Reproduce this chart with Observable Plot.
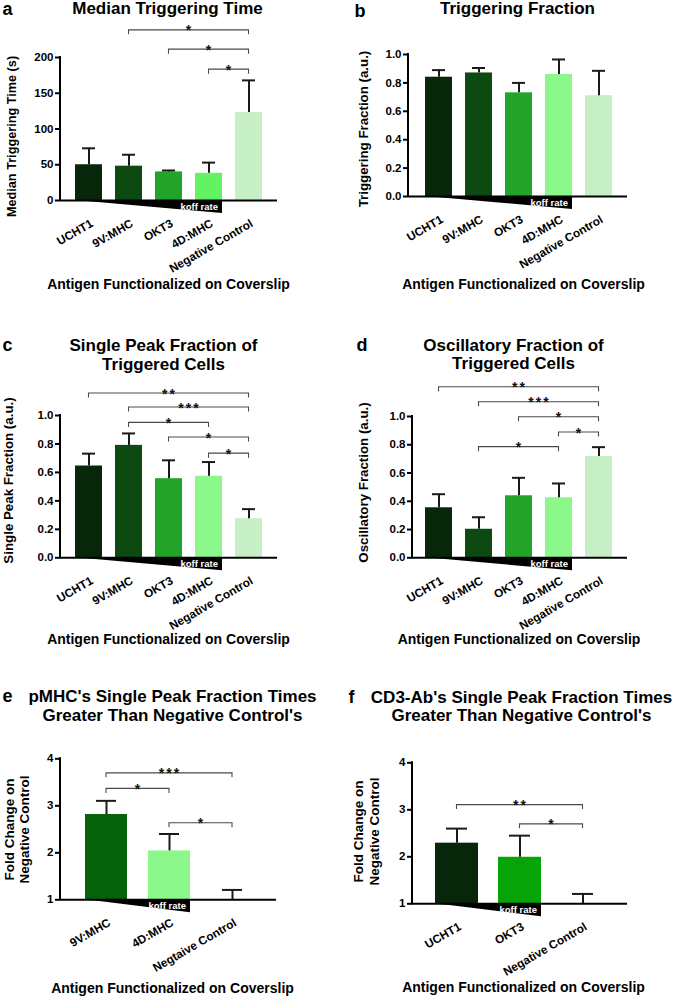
<!DOCTYPE html>
<html><head><meta charset="utf-8">
<script src="https://cdn.jsdelivr.net/npm/d3@7"></script>
<script src="https://cdn.jsdelivr.net/npm/@observablehq/plot@0.6"></script>
<style>
body{margin:0;background:#fff;}
#fig{position:relative;width:675px;height:997px;overflow:hidden;background:#fff;}
#fig svg{position:absolute;}
</style></head><body><div id="fig"></div>
<script>
// ---------------- data ----------------
const catsFull = ["UCHT1", "9V:MHC", "OKT3", "4D:MHC", "Negative Control"];
const catsPMHC = ["9V:MHC", "4D:MHC", "Negtaive Control"];
const catsCD3 = ["UCHT1", "OKT3", "Negative Control"];

const medianTime = [50, 48, 40, 38, 123];
const medianTimeErr = [23, 16, 2, 15, 45];
const trigFrac = [0.84, 0.87, 0.73, 0.86, 0.71];
const trigFracErr = [0.05, 0.035, 0.07, 0.105, 0.175];
const singlePeak = [0.645, 0.79, 0.556, 0.573, 0.275];
const singlePeakErr = [0.087, 0.084, 0.129, 0.10, 0.067];
const oscFrac = [0.354, 0.202, 0.439, 0.425, 0.717];
const oscFracErr = [0.096, 0.085, 0.127, 0.101, 0.066];
const pmhcFold = [2.815, 2.04, 1.0];
const pmhcFoldErr = [0.29, 0.36, 0.21];
const cd3Fold = [2.29, 1.99, 1.0];
const cd3FoldErr = [0.31, 0.46, 0.21];

const yTicksTime = [0, 50, 100, 150, 200];
const yTicksFrac = [0, 0.2, 0.4, 0.6, 0.8, 1.0];
const yTicksFold = [1, 2, 3, 4];

// significance brackets: [from, to, bracket level (data units), label]
const sigA = [["9V:MHC", "Negative Control", 238, "*"], ["OKT3", "Negative Control", 211, "*"], ["4D:MHC", "Negative Control", 183, "*"]];
const sigB = [];
const sigC = [["UCHT1", "Negative Control", 1.155, "**"], ["9V:MHC", "Negative Control", 1.056, "***"], ["9V:MHC", "4D:MHC", 0.948, "*"], ["OKT3", "Negative Control", 0.845, "*"], ["4D:MHC", "Negative Control", 0.732, "*"]];
const sigD = [["UCHT1", "Negative Control", 1.207, "**"], ["9V:MHC", "Negative Control", 1.101, "***"], ["OKT3", "Negative Control", 0.995, "*"], ["4D:MHC", "Negative Control", 0.887, "*"], ["9V:MHC", "4D:MHC", 0.783, "*"]];
const sigE = [["9V:MHC", "Negtaive Control", 3.69, "***"], ["9V:MHC", "4D:MHC", 3.36, "*"], ["4D:MHC", "Negtaive Control", 2.63, "*"]];
const sigF = [["UCHT1", "Negative Control", 3.10, "**"], ["OKT3", "Negative Control", 2.69, "*"]];

const xTitle = "Antigen Functionalized on Coverslip";
const koffLabel = "koff rate";

// ---------------- styles / layout ----------------
const FONT = '"Liberation Sans", Arial, Helvetica, sans-serif';
const C_UCHT1 = "#07260a", C_9V = "#0c4a11", C_OKT3 = "#23a329", C_4D = "#8cf88c", C_NC = "#c6efc6";

const panels = [
  {letter: "a", title: "Median Triggering Time", ylabel: "Median Triggering Time (s)",
   cats: catsFull, values: medianTime, errs: medianTimeErr, base: 0, yDomain: [0, 200], yTicks: yTicksTime, fmt: d3.format("d"),
   sig: sigA, koffEnd: "4D:MHC", colors: [C_UCHT1, C_9V, C_OKT3, "#62f262", C_NC],
   left: 0, top: 0, W: 337, H: 300, mL: 60, mR: 60, mT: 57, mB: 100, xRange: [68.5, 268.5], pad: 0.325, cap: 7,
   titleX: 167, titleY: 13, letterX: 2, letterY: 14, yLabX: 11, yLabY: 136, yLabSize: 12.7, xLabX: 168, xLabY: 288},
  {letter: "b", title: "Triggering Fraction", ylabel: "Triggering Fraction (a.u.)",
   cats: catsFull, values: trigFrac, errs: trigFracErr, base: 0, yDomain: [0, 1], yTicks: yTicksFrac, fmt: d3.format(".1f"),
   sig: sigB, koffEnd: "4D:MHC", colors: [C_UCHT1, C_9V, C_OKT3, C_4D, C_NC],
   left: 335, top: 0, W: 340, H: 300, mL: 73, mR: 48, mT: 54, mB: 104, xRange: [83.5, 283.5], pad: 0.325, cap: 7,
   titleX: 182, titleY: 13, letterX: 19, letterY: 16, yLabX: 28, yLabY: 128.5, yLabSize: 13.3, xLabX: 188, xLabY: 288},
  {letter: "c", title: "Single Peak Fraction of\nTriggered Cells", ylabel: "Single Peak Fraction (a.u.)",
   cats: catsFull, values: singlePeak, errs: singlePeakErr, base: 0, yDomain: [0, 1], yTicks: yTicksFrac, fmt: d3.format(".1f"),
   sig: sigC, koffEnd: "4D:MHC", colors: [C_UCHT1, C_9V, C_OKT3, C_4D, C_NC],
   left: 0, top: 300, W: 337, H: 350, mL: 60, mR: 60, mT: 115, mB: 92.7, xRange: [68.5, 268.5], pad: 0.325, cap: 7,
   titleX: 163, titleY: 69, letterX: 2, letterY: 50, yLabX: 8, yLabY: 180, yLabSize: 13.3, xLabX: 168, xLabY: 343},
  {letter: "d", title: "Oscillatory Fraction of\nTriggered Cells", ylabel: "Oscillatory Fraction (a.u.)",
   cats: catsFull, values: oscFrac, errs: oscFracErr, base: 0, yDomain: [0, 1], yTicks: yTicksFrac, fmt: d3.format(".1f"),
   sig: sigD, koffEnd: "4D:MHC", colors: [C_UCHT1, C_9V, C_OKT3, C_4D, C_NC],
   left: 335, top: 300, W: 340, H: 350, mL: 77, mR: 48, mT: 116, mB: 92.7, xRange: [83.5, 283.5], pad: 0.325, cap: 7,
   titleX: 178, titleY: 68.5, letterX: 21, letterY: 50, yLabX: 28, yLabY: 182, yLabSize: 13.3, xLabX: 183.5, xLabY: 343},
  {letter: "e", title: "pMHC's Single Peak Fraction Times\nGreater Than Negative Control's", ylabel: "Fold Change on\nNegative Control",
   cats: catsPMHC, values: pmhcFold, errs: pmhcFoldErr, base: 1, yDomain: [1, 4], yTicks: yTicksFold, fmt: d3.format("d"),
   sig: sigE, koffEnd: "4D:MHC", colors: ["#05620a", C_4D, C_NC],
   left: 0, top: 650, W: 337, H: 347, mL: 60, mR: 61, mT: 108.3, mB: 97.7, xRange: [73.4, 264.5], pad: 0.333, cap: 11,
   titleX: 172, titleY: 70, letterX: 2, letterY: 51, yLabX: 16, yLabY: 179, yLabSize: 13.5, xLabX: 172, xLabY: 342.7},
  {letter: "f", title: "CD3-Ab's Single Peak Fraction Times\nGreater Than Negative Control's", ylabel: "Fold Change on\nNegative Control",
   cats: catsCD3, values: cd3Fold, errs: cd3FoldErr, base: 1, yDomain: [1, 4], yTicks: yTicksFold, fmt: d3.format("d"),
   sig: sigF, koffEnd: "OKT3", colors: [C_UCHT1, "#06a406", C_NC],
   left: 335, top: 650, W: 340, H: 347, mL: 77, mR: 48, mT: 112.3, mB: 93.7, xRange: [89.8, 279.8], pad: 0.32, cap: 11,
   titleX: 186, titleY: 70.5, letterX: 13, letterY: 52, yLabX: 30.5, yLabY: 181, yLabSize: 13.5, xLabX: 188, xLabY: 341.7}
];

function bwOf(x) { return typeof x.bandwidth === "function" ? x.bandwidth() : (x.bandwidth || 0); }

function yAxisLine(p) {
  return (index, scales, values, dims) => {
    const y = scales.y;
    const g = d3.create("svg:g");
    g.append("line").attr("x1", dims.marginLeft).attr("x2", dims.marginLeft)
      .attr("y1", y(p.yDomain[1]) - 1).attr("y2", y(p.yDomain[0]) + 1)
      .attr("stroke", "#000").attr("stroke-width", 2);
    return g.node();
  };
}

function koffWedge(p) {
  return (index, scales) => {
    const x = scales.x, y = scales.y, bw = bwOf(x);
    const x0 = x(p.cats[0]), x1 = x(p.koffEnd) + bw, y0 = y(p.base);
    const depth = 13;
    const g = d3.create("svg:g");
    g.append("path").attr("d", `M${x0},${y0}L${x1},${y0}L${x1},${y0 + depth}Z`).attr("fill", "#000");
    g.append("text").attr("x", x1 - 4).attr("y", y0 + 9.5).attr("text-anchor", "end")
      .attr("fill", "#fff").attr("font-size", 9.5).attr("font-weight", "bold").attr("font-family", FONT)
      .text(koffLabel);
    return g.node();
  };
}

function brackets(p) {
  return (index, scales) => {
    const x = scales.x, y = scales.y, bw = bwOf(x);
    const g = d3.create("svg:g");
    for (const [a, b, lvl, stars] of p.sig) {
      const xa = x(a) + bw / 2, xb = x(b) + bw / 2, yy = y(lvl);
      g.append("path").attr("d", `M${xa},${yy + 4.5}V${yy}H${xb}V${yy + 4.5}`)
        .attr("fill", "none").attr("stroke", "#4a4a4a").attr("stroke-width", 1.1);
      g.append("text").attr("x", (xa + xb) / 2 + 1).attr("y", yy + 5.6).attr("text-anchor", "middle")
        .attr("font-size", 14).attr("font-weight", "bold").attr("font-family", FONT)
        .attr("letter-spacing", 2).attr("fill", "#111").text(stars);
    }
    return g.node();
  };
}

const fig = document.getElementById("fig");
for (const p of panels) {
  const data = p.cats.map((c, i) => ({cat: c, value: p.values[i], err: p.errs[i]}));
  const svg = Plot.plot({
    width: p.W, height: p.H,
    marginLeft: p.mL, marginRight: p.mR, marginTop: p.mT, marginBottom: p.mB,
    style: {fontFamily: FONT, background: "transparent", overflow: "visible", color: "#000"},
    x: {type: "band", domain: p.cats, range: p.xRange, paddingInner: p.pad, paddingOuter: p.pad / 2, align: 0.5, label: null},
    y: {domain: p.yDomain, label: null},
    color: {domain: p.cats, range: p.colors},
    marks: [
      Plot.barY(data, {x: "cat", y1: () => p.base, y2: "value", fill: "cat"}),
      Plot.ruleX(data, {x: "cat", y1: "value", y2: d => d.value + d.err, stroke: "#1a1a1a", strokeWidth: 2}),
      Plot.tickY(data, {x: "cat", y: d => d.value + d.err, stroke: "#1a1a1a", strokeWidth: 2, insetLeft: p.cap, insetRight: p.cap}),
      koffWedge(p),
      Plot.ruleY([p.base], {stroke: "#000", strokeWidth: 2}),
      yAxisLine(p),
      Plot.axisY({ticks: p.yTicks, tickFormat: p.fmt, tickSize: 5, tickPadding: 2, strokeWidth: 2,
        fontSize: 11.5, fontWeight: "bold", label: null}),
      Plot.axisX({tickSize: 0, tickPadding: 22, tickRotate: -30, dx: 3, fontSize: 11.8, fontWeight: "bold", label: null}),
      brackets(p),
      Plot.text([p.title], {text: d => d, frameAnchor: "top-left", dx: p.titleX - p.mL, dy: p.titleY - p.mT,
        textAnchor: "middle", lineAnchor: "bottom", lineHeight: 1.08, fontSize: 17, fontWeight: "bold"}),
      Plot.text([p.letter], {text: d => d, frameAnchor: "top-left", dx: p.letterX - p.mL, dy: p.letterY - p.mT,
        textAnchor: "start", lineAnchor: "bottom", fontSize: 18, fontWeight: "bold"}),
      Plot.text([p.ylabel], {text: d => d, frameAnchor: "top-left", dx: p.yLabX - p.mL, dy: p.yLabY - p.mT,
        rotate: -90, textAnchor: "middle", lineAnchor: "middle", lineHeight: 1.15, fontSize: p.yLabSize, fontWeight: "bold"}),
      Plot.text([xTitle], {text: d => d, frameAnchor: "top-left", dx: p.xLabX - p.mL, dy: p.xLabY - p.mT,
        textAnchor: "middle", lineAnchor: "bottom", fontSize: 14, fontWeight: "bold"})
    ]
  });
  svg.style.left = p.left + "px";
  svg.style.top = p.top + "px";
  fig.appendChild(svg);
}
</script></body></html>
